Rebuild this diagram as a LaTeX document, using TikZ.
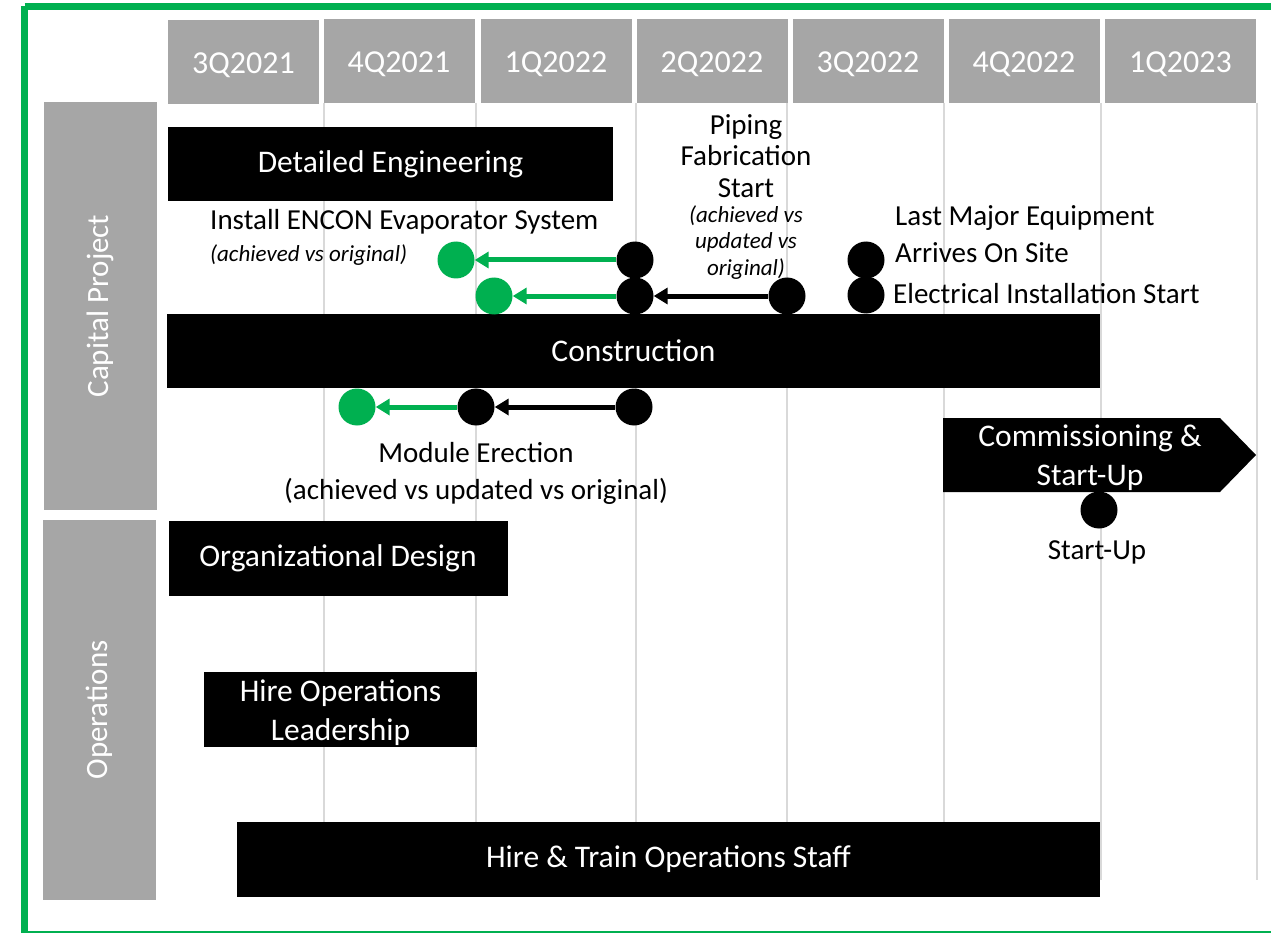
\documentclass[tikz,border=0pt]{standalone}
\usepackage{fontspec}
\setmainfont{Carlito}
\usetikzlibrary{arrows.meta}
\definecolor{offgreen}{HTML}{00B050}
\definecolor{hdrgray}{HTML}{A6A6A6}
\definecolor{gridgray}{HTML}{D9D9D9}
\begin{document}
\begin{tikzpicture}[x=1pt,y=-1pt,
  bar/.style={fill=black, text=white, inner sep=0pt, align=center, font=\fontsize{31.5}{39}\selectfont},
  hdr/.style={fill=hdrgray, text=white, inner sep=0pt, minimum width=151pt, minimum height=84pt, text height=24pt, text depth=1.4pt, font=\fontsize{32}{36}\selectfont},
  side/.style={fill=hdrgray, inner sep=0pt, minimum width=113pt},
  dot/.style={circle, fill=black, minimum size=37pt, inner sep=0pt},
  gdot/.style={dot, fill=offgreen},
  lbl/.style={inner sep=0pt, font=\fontsize{29}{37}\selectfont, align=left},
  note/.style={inner sep=0pt, font=\fontsize{23}{26.5}\selectfont\itshape, align=center},
  garrow/.style={draw=offgreen, line width=5pt, -{Triangle[length=14pt,width=16pt]}},
  karrow/.style={draw=black, line width=5pt, -{Triangle[length=14pt,width=16pt]}},
  gridline/.style={draw=gridgray, line width=1.5pt}
]
\useasboundingbox (0,0) rectangle (1271,933);
% frame
\draw[offgreen, line width=7pt] (24.5,6.5) -- (1275,6.5);
\draw[offgreen, line width=7pt] (24.5,6.5) -- (24.5,936);
\draw[offgreen, line width=2pt] (24.5,932) -- (1275,932);
% grid lines
\foreach \gx in {324,476,636,787,944,1101,1257}
  \draw[gridline] (\gx,103) -- (\gx,880);
% headers
\node[hdr] (h1) at (243.5,62) {3Q2021};
\node[hdr] (h2) at (399,61) {4Q2021};
\node[hdr] (h3) at (556,61) {1Q2022};
\node[hdr] (h4) at (712,61) {2Q2022};
\node[hdr] (h5) at (868,61) {3Q2022};
\node[hdr] (h6) at (1024,61) {4Q2022};
\node[hdr] (h7) at (1180.5,61) {1Q2023};
% side bars
\node[side, minimum height=408pt] (cp) at (100.5,306) {};
\node[rotate=90, text=white, font=\fontsize{31}{36}\selectfont, inner sep=0pt] (cpt) at (100.5,306) {Capital Project};
\node[side, minimum height=380pt] (op) at (99.5,710) {};
\node[rotate=90, text=white, font=\fontsize{31}{36}\selectfont, inner sep=0pt] (opt) at (99.5,710) {Operations};
% bars
\node[bar, minimum width=445pt, minimum height=74pt] (de) at (390.5,164) {Detailed Engineering};
\node[bar, minimum width=933pt, minimum height=74pt] (con) at (633.5,351) {Construction};
\node[bar, minimum width=339pt, minimum height=75pt] (org) at (338,558.5) {Organizational Design};
\fill[black] (204,672) rectangle (477,747);
\node[bar, fill=none] (hol) at (340.5,713) {Hire Operations\\Leadership};
\node[bar, minimum width=863pt, minimum height=75pt] (hts) at (668.5,859.5) {Hire \& Train Operations Staff};
\fill[black] (943,418) -- (1220,418) -- (1256,455) -- (1220,492) -- (943,492) -- cycle;
\node[bar, fill=none] (csu) at (1090,457.5) {Commissioning \&\\Start-Up};
% milestones
\node[dot] (e1) at (635,260) {};
\node[gdot] (e1g) at (456,260) {};
\node[dot] (p1) at (635,296) {};
\node[dot] (p2) at (787,296) {};
\node[gdot] (p1g) at (494,296) {};
\node[dot] (lm) at (866,260) {};
\node[dot] (el) at (866,295) {};
\node[dot] (m1) at (634,407) {};
\node[dot] (m2) at (476,407) {};
\node[gdot] (m3) at (357,407) {};
\node[dot] (su) at (1099,510) {};
\draw[garrow] (e1) -- (e1g);
\draw[garrow] (p1) -- (p1g);
\draw[karrow] (p2) -- (p1);
\draw[karrow] (m1) -- (m2);
\draw[garrow] (m2) -- (m3);
% labels
\node[lbl, anchor=west] (tenc) at (210,222) {Install ENCON Evaporator System};
\node[note, anchor=west] (tenc2) at (210,255) {(achieved vs original)};
\node[lbl, align=center] (tpip) at (746,156) {Piping\\[-5.5pt]Fabrication\\[-5.5pt]Start};
\node[note] (tpip2) at (746,242.5) {(achieved vs\\updated vs\\original)};
\node[lbl, anchor=west] (tlm) at (895,234.5) {Last Major Equipment\\Arrives On Site};
\node[lbl, anchor=west] (tel) at (893,294) {Electrical Installation Start};
\node[lbl, align=center] (tme) at (476,473) {Module Erection\\(achieved vs updated vs original)};
\node[lbl] (tsu) at (1097,552) {Start-Up};
\end{tikzpicture}
\end{document}
